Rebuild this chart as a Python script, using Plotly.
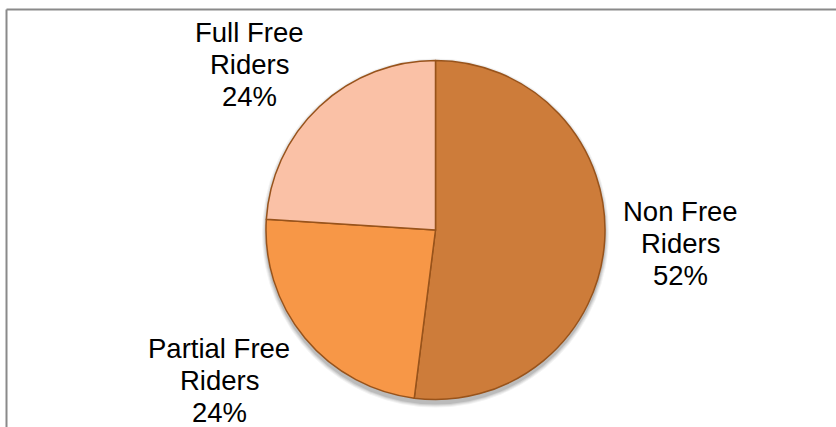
import plotly.graph_objects as go

# Survey composition by rider type
categories = ["Non Free Riders", "Partial Free Riders", "Full Free Riders"]
label_lines = [["Non Free", "Riders"], ["Partial Free", "Riders"], ["Full Free", "Riders"]]
values = [52, 24, 24]
colors = ["#CD7C3A", "#F79747", "#FAC1A6"]

W, H = 836, 427
FONT = "Liberation Sans, Arial, sans-serif"

# pie placement in pixels
cx, cy, r = 435.5, 230, 169.5


def px_x(v):
    return v / W


def px_y(v):
    return 1 - v / H


fig = go.Figure()
fig.add_trace(go.Pie(
    labels=categories,
    values=values,
    sort=False,
    direction="clockwise",
    rotation=0,
    textinfo="none",
    hoverinfo="label+percent",
    marker=dict(colors=colors, line=dict(color="#98531B", width=1.5)),
    domain=dict(x=[px_x(cx - r), px_x(cx + r)], y=[px_y(cy + r), px_y(cy - r)]),
    showlegend=False,
))

# outside labels: (center x, first line center y) in pixels
label_pos = [(680, 211), (219, 348), (249, 32)]
line_gap = 32
total = sum(values)
annotations = []
for lines, v, (lx, ly) in zip(label_lines, values, label_pos):
    texts = lines + [f"{round(100 * v / total)}%"]
    for i, t in enumerate(texts):
        annotations.append(dict(
            text=t, x=px_x(lx), y=px_y(ly + i * line_gap),
            xref="paper", yref="paper", xanchor="center", yanchor="middle",
            height=24, valign="middle",
            showarrow=False, font=dict(family=FONT, size=27.5, color="#000000"),
        ))

# soft drop shadow under the pie
shapes = []
for k, op in [(5, 0.05), (4, 0.06), (3, 0.08), (2, 0.10)]:
    rr = r + k
    off = 3
    shapes.append(dict(
        type="circle", xref="paper", yref="paper", layer="below",
        x0=px_x(cx - rr + 1), x1=px_x(cx + rr - 1),
        y0=px_y(cy + off + rr), y1=px_y(cy + off - rr),
        fillcolor=f"rgba(0,0,0,{op})", line=dict(width=0),
    ))

# chart frame (top and left edges visible)
frame = dict(color="#8A8A8A", width=2)
shapes += [
    dict(type="line", xref="paper", yref="paper", x0=px_x(6.5), x1=1.01, y0=px_y(9.5), y1=px_y(9.5), line=frame),
    dict(type="line", xref="paper", yref="paper", x0=px_x(6.5), x1=px_x(6.5), y0=px_y(9.5), y1=-0.01, line=frame),
]

fig.update_layout(
    width=W, height=H,
    margin=dict(l=0, r=0, t=0, b=0),
    paper_bgcolor="#FFFFFF",
    plot_bgcolor="#FFFFFF",
    annotations=annotations,
    shapes=shapes,
)

fig.write_html("out.html")
